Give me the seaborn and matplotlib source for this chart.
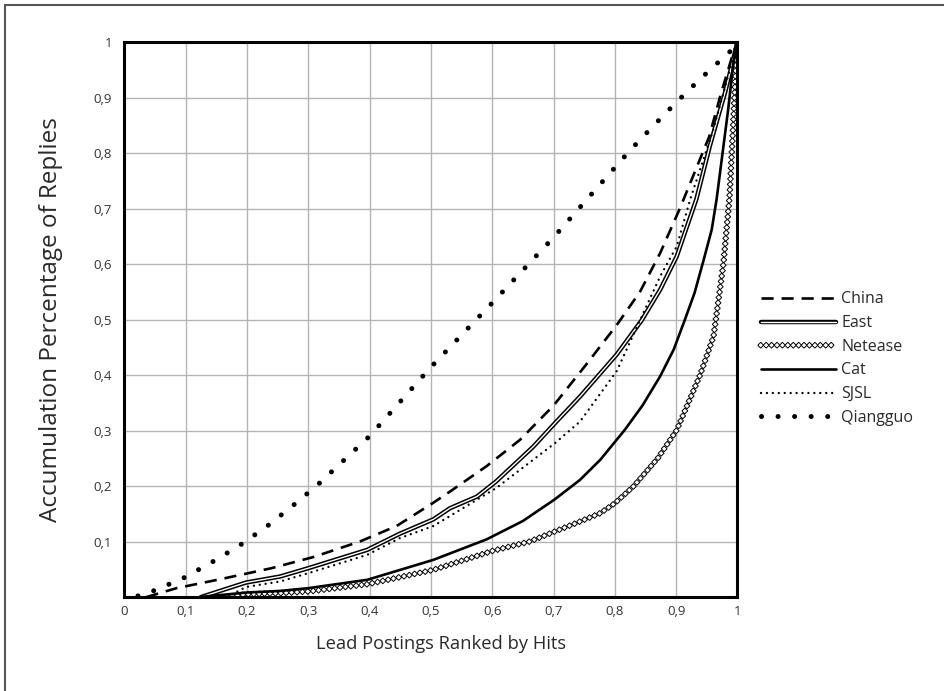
import numpy as np
import pandas as pd
import seaborn as sns
import matplotlib
matplotlib.use('Agg')
import matplotlib.pyplot as plt
import matplotlib.patheffects as pe
from matplotlib.patheffects import AbstractPathEffect
from matplotlib.path import Path
from matplotlib.transforms import Affine2D
from matplotlib.lines import Line2D
from matplotlib.ticker import FuncFormatter

# Values (share of postings vs share of replies)
china_x = [0.036, 0.085, 0.156, 0.24, 0.308, 0.384, 0.444, 0.504, 0.531, 0.591, 0.645,
           0.70, 0.754, 0.803, 0.841, 0.874, 0.906, 0.954, 0.973, 0.993, 1.0]
china_y = [0.0, 0.016, 0.032, 0.052, 0.072, 0.10, 0.128, 0.170, 0.19, 0.236, 0.283,
           0.345, 0.42, 0.49, 0.55, 0.62, 0.70, 0.83, 0.907, 0.98, 1.0]

east_x = [0.125, 0.198, 0.254, 0.30, 0.396, 0.449, 0.504, 0.531, 0.575, 0.606, 0.667,
          0.702, 0.743, 0.803, 0.844, 0.874, 0.901, 0.933, 0.955, 0.98, 1.0]
east_y = [0.0, 0.026, 0.037, 0.052, 0.085, 0.114, 0.140, 0.160, 0.181, 0.208, 0.271,
          0.313, 0.361, 0.437, 0.499, 0.554, 0.614, 0.717, 0.813, 0.91, 1.0]

netease_x = [0.167, 0.198, 0.254, 0.30, 0.396, 0.504, 0.60, 0.661, 0.743, 0.776, 0.80,
             0.83, 0.87, 0.901, 0.939, 0.961, 0.977, 0.987, 0.993, 0.997, 1.0]
netease_y = [0.0, 0.005, 0.007, 0.010, 0.023, 0.049, 0.083, 0.10, 0.136, 0.151, 0.169,
             0.199, 0.25, 0.301, 0.40, 0.47, 0.60, 0.72, 0.85, 0.95, 1.0]

cat_x = [0.123, 0.198, 0.254, 0.30, 0.396, 0.504, 0.591, 0.65, 0.702, 0.743, 0.776,
         0.816, 0.845, 0.874, 0.896, 0.914, 0.93, 0.944, 0.958, 0.966, 0.985, 0.993, 1.0]
cat_y = [0.0, 0.008, 0.011, 0.016, 0.031, 0.067, 0.104, 0.137, 0.176, 0.211, 0.247,
         0.301, 0.345, 0.398, 0.446, 0.499, 0.548, 0.604, 0.662, 0.717, 0.88, 0.96, 1.0]

sjsl_x = [0.167, 0.198, 0.254, 0.30, 0.396, 0.449, 0.504, 0.606, 0.702, 0.743, 0.803,
          0.844, 0.874, 0.901, 0.923, 0.96, 1.0]
sjsl_y = [0.0, 0.018, 0.028, 0.043, 0.076, 0.106, 0.128, 0.196, 0.277, 0.316, 0.407,
          0.506, 0.578, 0.632, 0.717, 0.84, 1.0]

qiangguo_x = [0.022, 0.047, 0.096, 0.143, 0.188, 0.232, 0.274, 0.315, 0.40, 0.498, 0.60,
              0.70, 0.789, 0.825, 0.862, 0.899, 0.937, 0.976, 1.0]
qiangguo_y = [0.002, 0.011, 0.034, 0.063, 0.093, 0.127, 0.164, 0.202, 0.29, 0.412, 0.53,
              0.648, 0.760, 0.805, 0.848, 0.890, 0.931, 0.971, 0.995]

SERIES = ['China', 'East', 'Netease', 'Cat', 'SJSL', 'Qiangguo']
DATA = {
    'China': (china_x, china_y),
    'East': (east_x, east_y),
    'Netease': (netease_x, netease_y),
    'Cat': (cat_x, cat_y),
    'SJSL': (sjsl_x, sjsl_y),
    'Qiangguo': (qiangguo_x, qiangguo_y),
}
X_TICKS = [0, 0.1, 0.2, 0.3, 0.4, 0.5, 0.6, 0.7, 0.8, 0.9, 1.0]
Y_TICKS = [0.1, 0.2, 0.3, 0.4, 0.5, 0.6, 0.7, 0.8, 0.9, 1.0]


class DiamondChain(AbstractPathEffect):
    """Draws open diamonds evenly spaced along the line (in screen space)."""

    def __init__(self, spacing=3.9, size=4.2, lw=0.7):
        super().__init__()
        self.spacing = spacing
        self.size = size
        self.lw = lw

    def draw_path(self, renderer, gc, tpath, affine, rgbFace=None):
        verts = affine.transform(tpath.vertices)
        seg = np.diff(verts, axis=0)
        dist = np.concatenate([[0], np.cumsum(np.hypot(seg[:, 0], seg[:, 1]))])
        ppx = renderer.points_to_pixels(1.0)
        steps = np.arange(0, dist[-1] + 1e-9, self.spacing * ppx)
        xs = np.interp(steps, dist, verts[:, 0])
        ys = np.interp(steps, dist, verts[:, 1])
        h = self.size * ppx / 2
        diamond = Path([[0, h], [h, 0], [0, -h], [-h, 0], [0, h]], closed=True)
        gc0 = renderer.new_gc()
        gc0.copy_properties(gc)
        gc0.set_linewidth(self.lw)
        gc0.set_dashes(0, None)
        gc0.set_joinstyle('miter')
        gc0.set_foreground('black')
        for x, y in zip(xs, ys):
            renderer.draw_path(gc0, diamond, Affine2D().translate(x, y), (1, 1, 1))
        gc0.restore()


STYLES = {
    'China': dict(color='black', linewidth=1.9, linestyle=(0, (4.6, 3.0))),
    'East': dict(color='white', linewidth=1.0,
                 path_effects=[pe.Stroke(linewidth=3.2, foreground='black'), pe.Normal()]),
    'Netease': dict(color='black', linewidth=1.0, path_effects=[DiamondChain()]),
    'Cat': dict(color='black', linewidth=1.9),
    'SJSL': dict(color='black', linewidth=1.7, linestyle=(0, (0.01, 2.5)),
                 dash_capstyle='round'),
    'Qiangguo': dict(color='black', linewidth=3.6, linestyle=(0, (0.01, 3.3)),
                     dash_capstyle='round'),
}

sns.set_style('white')
plt.rcParams['font.family'] = ['Open Sans', 'DejaVu Sans']

fig = plt.figure(figsize=(9.45, 6.91), dpi=100)
ax = fig.add_axes([0.1317, 0.136, 0.6487, 0.8032])

for name in SERIES:
    xs, ys = DATA[name]
    df = pd.DataFrame({'x': xs, 'y': ys})
    sns.lineplot(data=df, x='x', y='y', ax=ax, estimator=None, sort=False,
                 label=name, **STYLES[name])

ax.set_xlim(0, 1)
ax.set_ylim(0, 1)
ax.set_xticks(X_TICKS)
ax.set_yticks(Y_TICKS)
fmt = FuncFormatter(lambda v, p: ('%g' % round(v, 2)).replace('.', ','))
ax.xaxis.set_major_formatter(fmt)
ax.yaxis.set_major_formatter(fmt)
ax.tick_params(axis='both', length=0, labelsize=9.5, labelcolor='#333333')
ax.tick_params(axis='x', pad=6)
ax.tick_params(axis='y', pad=9)

ax.grid(True, color='#b4b4b4', linewidth=1.0)
ax.set_axisbelow(True)
for sp in ax.spines.values():
    sp.set_color('black')
    sp.set_linewidth(2.2)

ax.set_xlabel('Lead Postings Ranked by Hits', fontsize=13.2, color='#2a2a2a', labelpad=12)
ax.xaxis.label.set_x(0.516)
ax.set_ylabel('Accumulation Percentage of Replies', fontsize=17.5, color='#2a2a2a',
              labelpad=22)

ax.legend(loc='center left', bbox_to_anchor=(0.805, 0.481), bbox_transform=fig.transFigure,
          frameon=False, fontsize=11.5, handlelength=4.7, handletextpad=0.35,
          labelspacing=0.48, borderpad=0, borderaxespad=0, labelcolor='#2a2a2a')

# thin frame along the left and top edge of the picture
fig.add_artist(Line2D([5 / 945, 5 / 945], [0, 1 - 5 / 691], transform=fig.transFigure,
                      color='#555555', linewidth=1.5))
fig.add_artist(Line2D([5 / 945, 1], [1 - 5 / 691, 1 - 5 / 691], transform=fig.transFigure,
                      color='#555555', linewidth=1.5))

fig.savefig('out.png', dpi=100)
